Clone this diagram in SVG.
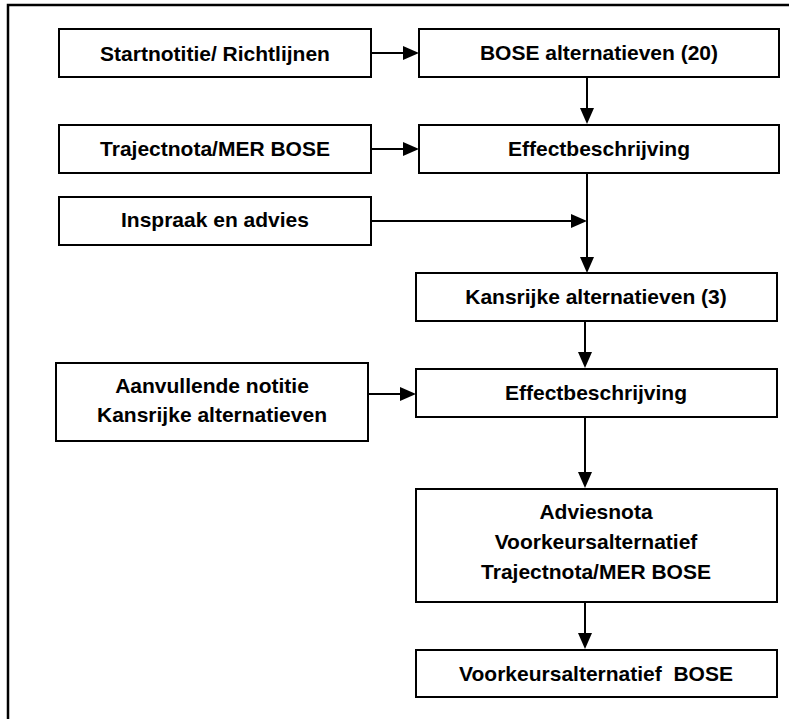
<svg xmlns="http://www.w3.org/2000/svg" width="789" height="719" viewBox="0 0 789 719">
  <style>
    .box { fill: #ffffff; stroke: #000000; stroke-width: 2; }
    .lbl { font-family: "Liberation Sans", Arial, sans-serif; font-weight: bold; font-size: 21px; fill: #000000; text-anchor: middle; white-space: pre; }
    .con { stroke: #000000; stroke-width: 2; fill: none; marker-end: url(#arrow); }
    .frame { stroke: #000000; stroke-width: 2.5; fill: none; }
  </style>
  <defs>
    <marker id="arrow" markerUnits="userSpaceOnUse" markerWidth="17" markerHeight="15" refX="8" refY="7" orient="auto">
      <path d="M0,0 L16,7 L0,14 Z" fill="#000000"/>
    </marker>
  </defs>
  <rect x="0" y="0" width="789" height="719" fill="#ffffff"/>
  <path class="frame" d="M8,719 V5 H789"/>

  <g id="connectors">
    <line class="con" x1="372" y1="53" x2="411" y2="53"/>
    <line class="con" x1="372" y1="149" x2="411" y2="149"/>
    <line class="con" x1="587" y1="78" x2="587" y2="116"/>
    <line class="con" x1="587" y1="174" x2="587" y2="265"/>
    <line class="con" x1="372" y1="221" x2="579" y2="221"/>
    <line class="con" x1="585" y1="322" x2="585" y2="360"/>
    <line class="con" x1="369" y1="394" x2="408" y2="394"/>
    <line class="con" x1="585" y1="418" x2="585" y2="480"/>
    <line class="con" x1="585" y1="603" x2="585" y2="641"/>
  </g>

  <g id="n1">
    <rect class="box" x="59" y="29" width="312" height="48"/>
    <text class="lbl" x="215" y="61">Startnotitie/ Richtlijnen</text>
  </g>
  <g id="n2">
    <rect class="box" x="419" y="29" width="360" height="48"/>
    <text class="lbl" x="599" y="60">BOSE alternatieven (20)</text>
  </g>
  <g id="n3">
    <rect class="box" x="59" y="125" width="312" height="48"/>
    <text class="lbl" x="215" y="156">Trajectnota/MER BOSE</text>
  </g>
  <g id="n4">
    <rect class="box" x="419" y="125" width="360" height="48"/>
    <text class="lbl" x="599" y="156">Effectbeschrijving</text>
  </g>
  <g id="n5">
    <rect class="box" x="59" y="197" width="312" height="48"/>
    <text class="lbl" x="215" y="227">Inspraak en advies</text>
  </g>
  <g id="n6">
    <rect class="box" x="416" y="273" width="361" height="48"/>
    <text class="lbl" x="596" y="304">Kansrijke alternatieven (3)</text>
  </g>
  <g id="n7">
    <rect class="box" x="56" y="363" width="312" height="78"/>
    <text class="lbl" x="212" y="393">Aanvullende notitie</text>
    <text class="lbl" x="212" y="422">Kansrijke alternatieven</text>
  </g>
  <g id="n8">
    <rect class="box" x="416" y="369" width="361" height="48"/>
    <text class="lbl" x="596" y="400">Effectbeschrijving</text>
  </g>
  <g id="n9">
    <rect class="box" x="416" y="489" width="361" height="113"/>
    <text class="lbl" x="596" y="519">Adviesnota</text>
    <text class="lbl" x="596" y="549">Voorkeursalternatief</text>
    <text class="lbl" x="596" y="579">Trajectnota/MER BOSE</text>
  </g>
  <g id="n10">
    <rect class="box" x="416" y="650" width="361" height="47"/>
    <text class="lbl" x="596" y="681">Voorkeursalternatief  BOSE</text>
  </g>
</svg>
